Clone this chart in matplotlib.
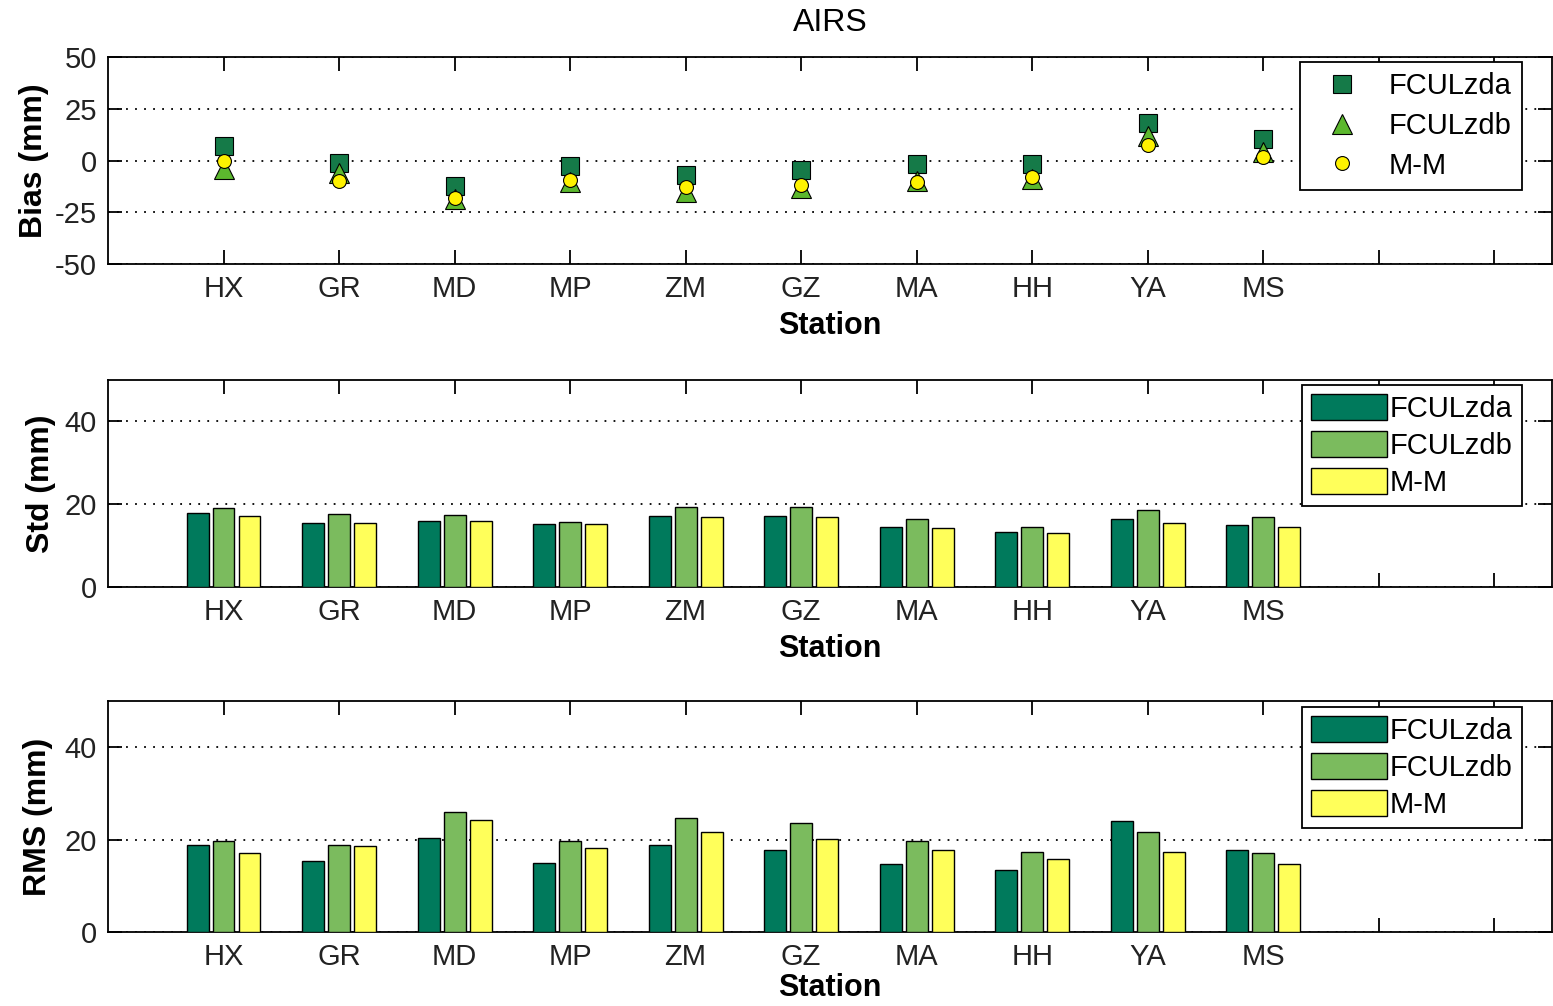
import numpy as np
import matplotlib
matplotlib.use('Agg')
import matplotlib.pyplot as plt

plt.rcParams['font.family'] = ['Liberation Sans', 'DejaVu Sans']
plt.rcParams['axes.unicode_minus'] = False

stations = ['HX', 'GR', 'MD', 'MP', 'ZM', 'GZ', 'MA', 'HH', 'YA', 'MS']
series = ['FCULzda', 'FCULzdb', 'M-M']

# bias (mm)
bias_zda = [7, -1, -12.4, -2.7, -6.9, -4.5, -1.8, -1.8, 18, 10.3]
bias_zdb = [-4, -6, -18.5, -10.4, -15, -13.3, -10, -8.8, 12, 4.2]
bias_mm = [0, -10, -18, -9.2, -12.7, -11.6, -10.3, -8, 7.4, 1.8]

# std (mm)
std_zda = [17.8, 15.5, 15.9, 15.1, 17.2, 17.2, 14.6, 13.4, 16.4, 15.0]
std_zdb = [19.0, 17.6, 17.3, 15.8, 19.4, 19.4, 16.4, 14.6, 18.6, 16.8]
std_mm = [17.2, 15.5, 15.9, 15.1, 16.8, 16.8, 14.2, 13.0, 15.4, 14.6]

# rms (mm)
rms_zda = [18.9, 15.4, 20.4, 15.0, 18.9, 17.8, 14.7, 13.5, 24.0, 17.7]
rms_zdb = [19.6, 18.9, 25.9, 19.6, 24.7, 23.5, 19.7, 17.3, 21.6, 17.0]
rms_mm = [17.0, 18.6, 24.3, 18.2, 21.6, 20.1, 17.7, 15.7, 17.3, 14.7]

c_dark = '#007a5c'
c_mid = '#7bbb5e'
c_yel = '#ffff5a'

fig = plt.figure(figsize=(15.53, 10.06), dpi=100)
W, H = 1553.0, 1006.0
left = 108 / W
width = (1552 - 108) / W
ax1 = fig.add_axes([left, 1 - 264 / H, width, 207 / H])
ax2 = fig.add_axes([left, 1 - 587 / H, width, 207 / H])
ax3 = fig.add_axes([left, 1 - 932 / H, width, 231 / H])

x = np.arange(1, len(stations) + 1)
xticks = np.arange(1, 13)
xlabels = stations + ['', '']


def style(ax, yticks, lpad=6):
    ax.set_xlim(0, 12.5)
    ax.set_xticks(xticks)
    ax.set_xticklabels(xlabels)
    ax.set_yticks(yticks)
    ax.tick_params(direction='in', length=10, width=1.3, top=True, right=True,
                   labelsize=21, labelcolor='#222222', pad=8)
    ax.yaxis.grid(True, linestyle=(0, (1, 4)), color='black', linewidth=1.3)
    ax.set_axisbelow(True)
    for s in ax.spines.values():
        s.set_linewidth(1.3)
    ax.set_xlabel('Station', fontsize=22, fontweight='bold', labelpad=lpad)


# bias panel
ax1.plot(x, bias_zda, 's', ms=13, mfc='#157a48', mec='black', mew=0.8, label=series[0], zorder=3)
ax1.plot(x, bias_zdb, '^', ms=15, mfc='#5cb82e', mec='black', mew=0.8, label=series[1], zorder=4)
ax1.plot(x, bias_mm, 'o', ms=10, mfc='#fff200', mec='black', mew=0.8, label=series[2], zorder=5)
ax1.set_ylim(-50, 50)
style(ax1, [-50, -25, 0, 25, 50])
ax1.set_ylabel('Bias (mm)', fontsize=23, fontweight='bold', labelpad=4)
fig.text(830 / W, 1 - 23 / H, 'AIRS', fontsize=23, ha='center', va='center')
ax1.legend(loc='upper right', bbox_to_anchor=(0.979, 0.976), borderaxespad=0,
           fontsize=21, fancybox=False, edgecolor='black', framealpha=1,
           labelspacing=0.4, handletextpad=0.5, borderpad=0.35,
           handlelength=2.2).get_frame().set_linewidth(1.3)

bw = 0.19
off = 0.225


def bars(ax, a, b, c, lpad=6):
    ax.bar(x - off, a, bw, color=c_dark, edgecolor='black', linewidth=1, label=series[0], zorder=3)
    ax.bar(x, b, bw, color=c_mid, edgecolor='black', linewidth=1, label=series[1], zorder=3)
    ax.bar(x + off, c, bw, color=c_yel, edgecolor='black', linewidth=1, label=series[2], zorder=3)
    ax.set_ylim(0, 50)
    style(ax, [0, 20, 40], lpad)
    leg = ax.legend(loc='upper right', bbox_to_anchor=(0.979, 0.975), borderaxespad=0,
                    fontsize=21, fancybox=False, edgecolor='black', framealpha=1,
                    labelspacing=0.28, handletextpad=0.12, borderpad=0.3,
                    handlelength=2.6, handleheight=1.0)
    leg.get_frame().set_linewidth(1.3)


bars(ax2, std_zda, std_zdb, std_mm)
ax2.set_ylabel('Std (mm)', fontsize=23, fontweight='bold', labelpad=6)
bars(ax3, rms_zda, rms_zdb, rms_mm, lpad=1)
ax3.set_ylabel('RMS (mm)', fontsize=23, fontweight='bold', labelpad=8)

fig.savefig('out.png', dpi=100)
